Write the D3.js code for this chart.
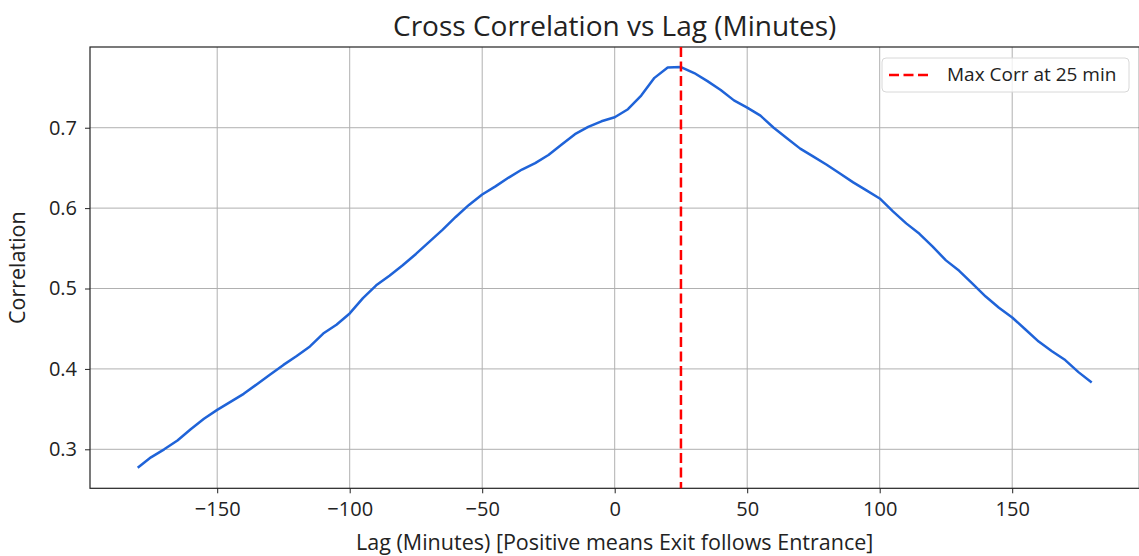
<!DOCTYPE html>
<html>
<head>
<meta charset="utf-8">
<script src="https://cdn.jsdelivr.net/npm/d3@7"></script>
<style>
  body { margin: 0; background: #fff; }
  text { font-family: "Open Sans", sans-serif; fill: #222; }
</style>
</head>
<body>
<div id="chart"></div>
<script>
//Datos
const lags = d3.range(-180, 181, 5);
const correlations = [
  0.277, 0.290, 0.300, 0.311, 0.325, 0.338, 0.349, 0.359, 0.369, 0.381,
  0.393, 0.405, 0.416, 0.428, 0.444, 0.455, 0.469, 0.488, 0.504, 0.516,
  0.529, 0.543, 0.558, 0.573, 0.589, 0.604, 0.617, 0.627, 0.638, 0.648,
  0.656, 0.666, 0.679, 0.692, 0.701, 0.708, 0.713, 0.723, 0.740, 0.762,
  0.775, 0.7755, 0.768, 0.758, 0.747, 0.734, 0.725, 0.715, 0.700, 0.687,
  0.674, 0.664, 0.654, 0.643, 0.632, 0.622, 0.612, 0.596, 0.581, 0.568,
  0.552, 0.535, 0.522, 0.506, 0.490, 0.476, 0.464, 0.449, 0.434, 0.422,
  0.411, 0.396, 0.383
];
const xTicks = [-150, -100, -50, 0, 50, 100, 150];
const yTicks = [0.3, 0.4, 0.5, 0.6, 0.7];
const maxLag = 25;
const legendLabel = 'Max Corr at 25 min';

const W = 1139, H = 556;
let margin = {top: 47, right: -0.4, bottom: 67.7, left: 90},
    width = W - margin.left - margin.right,
    height = H - margin.top - margin.bottom;

let svg = d3.select('#chart').append('svg')
    .attr('width', W).attr('height', H);

let chart = svg.append('g')
    .attr('transform', 'translate(' + margin.left + ',' + margin.top + ')');

//Escalas con margen del 5%
let x = d3.scaleLinear().domain([-198, 198]).range([0, width]);
let y = d3.scaleLinear().domain([0.2515, 0.8004]).range([height, 0]);

//Rejilla
chart.append('g').selectAll('line').data(xTicks).enter().append('line')
    .attr('x1', d => x(d)).attr('x2', d => x(d))
    .attr('y1', 0).attr('y2', height)
    .attr('stroke', '#b0b0b0').attr('stroke-width', 1);
chart.append('g').selectAll('line').data(yTicks).enter().append('line')
    .attr('y1', d => y(d)).attr('y2', d => y(d))
    .attr('x1', 0).attr('x2', width)
    .attr('stroke', '#b0b0b0').attr('stroke-width', 1);

//Ejes
let xAxis = chart.append('g')
    .attr('transform', 'translate(0,' + height + ')')
    .call(d3.axisBottom(x).tickValues(xTicks).tickSize(5).tickPadding(9)
        .tickFormat(d => d < 0 ? '\u2212' + Math.abs(d) : d));
let yAxis = chart.append('g')
    .call(d3.axisLeft(y).tickValues(yTicks).tickSize(5).tickPadding(8).tickFormat(d3.format('.1f')));

[xAxis, yAxis].forEach(a => {
    a.select('.domain').remove();
    a.selectAll('line').attr('stroke', '#222').attr('stroke-width', 1);
    a.selectAll('text').style('font-size', '20px').attr('fill', '#222');
});

//Marco
chart.append('rect')
    .attr('x', 0).attr('y', 0).attr('width', width).attr('height', height)
    .attr('fill', 'none').attr('stroke', '#222').attr('stroke-width', 1.2);

//Línea
let line = d3.line().x((d, i) => x(lags[i])).y(d => y(d));
chart.append('path')
    .datum(correlations)
    .attr('d', line)
    .attr('fill', 'none')
    .attr('stroke', '#1f63d8')
    .attr('stroke-width', 2.5)
    .attr('stroke-linejoin', 'round');

//Máximo
chart.append('line')
    .attr('x1', x(maxLag)).attr('x2', x(maxLag))
    .attr('y1', 0).attr('y2', height)
    .attr('stroke', '#ff0000').attr('stroke-width', 2.5)
    .attr('stroke-dasharray', '10,4.5');

//Leyenda
let legend = chart.append('g').attr('transform', 'translate(' + (792) + ',' + 11 + ')');
legend.append('rect')
    .attr('width', 247).attr('height', 34).attr('rx', 4)
    .attr('fill', 'rgba(255,255,255,0.8)').attr('stroke', '#d8d8d8');
legend.append('line')
    .attr('x1', 7).attr('x2', 48).attr('y1', 17).attr('y2', 17)
    .attr('stroke', '#ff0000').attr('stroke-width', 2.5)
    .attr('stroke-dasharray', '10,4.5');
legend.append('text')
    .attr('x', 65).attr('y', 23)
    .style('font-size', '19px')
    .text(legendLabel);

//Títulos
svg.append('text')
    .attr('x', margin.left + width / 2).attr('y', 36)
    .attr('text-anchor', 'middle')
    .style('font-size', '28px')
    .text('Cross Correlation vs Lag (Minutes)');
svg.append('text')
    .attr('x', margin.left + width / 2).attr('y', 550)
    .attr('text-anchor', 'middle')
    .style('font-size', '21.5px')
    .text('Lag (Minutes) [Positive means Exit follows Entrance]');
svg.append('text')
    .attr('transform', 'translate(25,' + (margin.top + height / 2) + ') rotate(-90)')
    .attr('text-anchor', 'middle')
    .style('font-size', '21.5px')
    .text('Correlation');
</script>
</body>
</html>
